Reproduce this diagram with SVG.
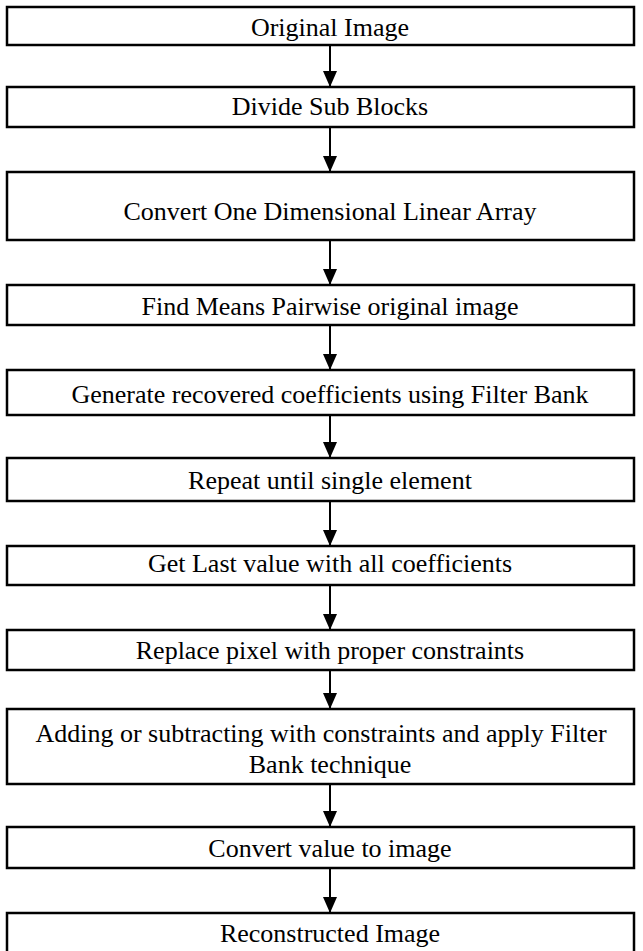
<svg xmlns="http://www.w3.org/2000/svg" width="643" height="951" viewBox="0 0 643 951">
<defs>
<style>
.box{fill:#fff;stroke:#000;stroke-width:2.5}
.t{font-family:"Liberation Serif","Times New Roman",serif;font-size:26px;fill:#000;text-anchor:middle}
.c{stroke:#000;stroke-width:2;fill:none;marker-end:url(#ah)}
</style>
<marker id="ah" markerWidth="16" markerHeight="14" refX="16" refY="7" orient="auto" markerUnits="userSpaceOnUse" viewBox="0 0 16 14">
<path d="M0,0 L16,7 L0,14 Z" fill="#000"/>
</marker>
</defs>
<rect width="643" height="951" fill="#fff"/>
<g id="connectors">
<line class="c" x1="330" y1="45" x2="330" y2="87"/>
<line class="c" x1="330" y1="127" x2="330" y2="172"/>
<line class="c" x1="330" y1="240" x2="330" y2="285"/>
<line class="c" x1="330" y1="325" x2="330" y2="370"/>
<line class="c" x1="330" y1="415" x2="330" y2="458"/>
<line class="c" x1="330" y1="501" x2="330" y2="546"/>
<line class="c" x1="330" y1="585" x2="330" y2="630"/>
<line class="c" x1="330" y1="670" x2="330" y2="709"/>
<line class="c" x1="330" y1="784" x2="330" y2="827"/>
<line class="c" x1="330" y1="868" x2="330" y2="913"/>
</g>
<g id="n1"><rect class="box" x="7" y="7" width="627" height="38"/><text class="t" x="330" y="36">Original Image</text></g>
<g id="n2"><rect class="box" x="7" y="87" width="627" height="40"/><text class="t" x="330" y="115">Divide Sub Blocks</text></g>
<g id="n3"><rect class="box" x="7" y="172" width="627" height="68"/><text class="t" x="330" y="220">Convert One Dimensional Linear Array</text></g>
<g id="n4"><rect class="box" x="7" y="285" width="627" height="40"/><text class="t" x="330" y="315">Find Means Pairwise original image</text></g>
<g id="n5"><rect class="box" x="7" y="370" width="627" height="45"/><text class="t" x="330" y="403">Generate recovered coefficients using Filter Bank</text></g>
<g id="n6"><rect class="box" x="7" y="458" width="627" height="43"/><text class="t" x="330" y="489">Repeat until single element</text></g>
<g id="n7"><rect class="box" x="7" y="546" width="627" height="39"/><text class="t" x="330" y="572">Get Last value with all coefficients</text></g>
<g id="n8"><rect class="box" x="7" y="630" width="627" height="40"/><text class="t" x="330" y="659">Replace pixel with proper constraints</text></g>
<g id="n9"><rect class="box" x="7" y="709" width="627" height="75"/><text class="t" x="321" y="742">Adding or subtracting with constraints and apply Filter</text><text class="t" x="330" y="773">Bank technique</text></g>
<g id="n10"><rect class="box" x="7" y="827" width="627" height="41"/><text class="t" x="330" y="857">Convert value to image</text></g>
<g id="n11"><rect class="box" x="7" y="913" width="627" height="46"/><text class="t" x="330" y="942">Reconstructed Image</text></g>
</svg>
